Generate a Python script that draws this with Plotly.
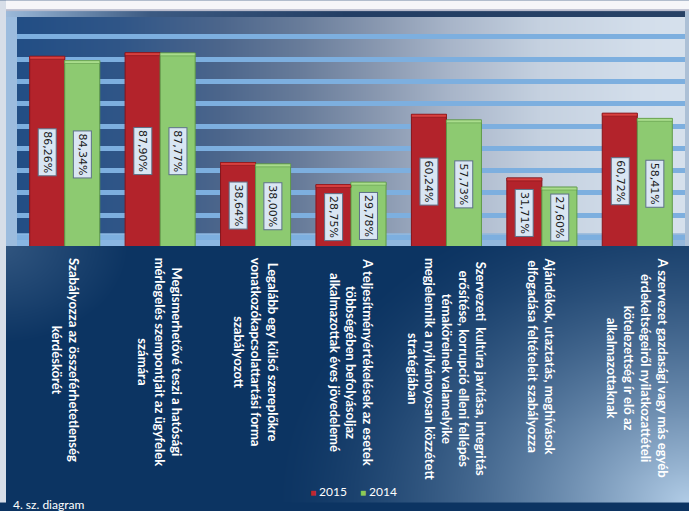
import base64
import struct
import zlib

import numpy as np
import plotly.graph_objects as go

# ---------------- data ----------------
categories = [
    "Szabályozza az összeférhetetlenség<br>kérdéskörét",
    "Megismerhetővé teszi a hatósági<br>mérlegelés szempontjait az ügyfelek<br>számára",
    "Legalább egy külső szereplőkre<br>vonatkozókapcsolattartási forma<br>szabályozott",
    "A teljesítményértékelések az esetek<br>többségében befolyásoljaz<br>alkalmazottak éves jövedelemé",
    "Szervezeti  kultúra javítása, integritás<br>erősítése, korrupció elleni fellépés<br>témaköreinek valamelyike<br>megjelennik a nyilvánoyosan közzétett<br>stratégiában",
    "Ajándékok, utaztatás, meghívások<br>elfogadása feltételeit szabályozza",
    "A szervezet gazdasági vagy más egyéb<br>érdekeltségeiről nyilatkozattételi<br>kötelezettség ír elő az<br>alkalmazottaknak",
]
series_names = ["2015", "2014"]
values_2015 = [86.26, 87.90, 38.64, 28.75, 60.24, 31.71, 60.72]
values_2014 = [84.34, 87.77, 38.00, 29.78, 57.73, 27.60, 58.41]
footer_text = "4. sz. diagram"

# ---------------- geometry / style ----------------
W, H = 689, 511
ML, MR, MT, MB = 17, 4, 17, 261
PW, PH = W - ML - MR, H - MT - MB
CAP = 1.3  # thickness (in axis units) of the lighter bevel on the bar tops

RED, RED_LINE, RED_CAP = "#b3232b", "#85141b", "#d8403f"
GREEN, GREEN_LINE, GREEN_CAP = "#8dca71", "#5f9a48", "#a9dc8c"
KEY_COLORS = ["#c0282e", "#8dca55"]


def fmt(v):
    return f"{v:.2f}".replace(".", ",") + "%"


# ---------------- background picture (gradients) ----------------
def make_background():
    xx, yy = np.meshgrid(np.arange(W) + 0.5, np.arange(H) + 0.5)
    img = np.zeros((H, W, 3), dtype=float)

    # area below the plot: navy, brightening towards the lower-right corner
    navy = np.array([12, 52, 98], float)
    light = np.array([178, 205, 231], float)
    d = np.sqrt(((xx - W) / 420.0) ** 2 + ((yy - H) / 330.0) ** 2)
    t = np.clip(1 - d, 0, 1) ** 1.5
    img[:] = navy * (1 - t[..., None]) + light * t[..., None]
    # slight haze in upper-left of the lower area
    d2 = np.sqrt(((xx - 0) / 130.0) ** 2 + ((yy - 250) / 100.0) ** 2)
    t2 = np.clip(1 - d2, 0, 1) * 0.35
    img = img * (1 - t2[..., None]) + np.array([120, 150, 185]) * t2[..., None]

    # plot area horizontal gradient
    xs = [17, 120, 220, 300, 380, 450, 540, 640, 685]
    cols = [(34, 78, 133), (48, 86, 136), (76, 102, 140), (104, 124, 154),
            (138, 153, 177), (168, 181, 201), (197, 209, 224), (211, 222, 235),
            (214, 225, 237)]
    cols = np.array(cols, float)
    pm = (xx >= ML) & (xx < W - MR) & (yy >= MT) & (yy < MT + PH)
    for c in range(3):
        ch = np.interp(xx, xs, cols[:, c])
        img[..., c] = np.where(pm, ch, img[..., c])

    # floor band at the bottom of the plot area
    fm = (xx >= ML) & (xx < W - MR) & (yy >= 237) & (yy < 250)
    fl = np.array([(136, 182, 228), (150, 184, 218)], float)
    for c in range(3):
        ch = np.interp(xx, [17, 685], fl[:, c])
        img[..., c] = np.where(fm, ch, img[..., c])

    # frame: left and top
    lm = (xx >= 6) & (xx < ML) & (yy >= 9) & (yy < 250)
    img[lm] = (156, 188, 222)
    tm = (xx >= 6) & (yy >= 9) & (yy < MT)
    top = np.zeros((H, W, 3))
    tcols = np.array([(160, 190, 222), (60, 90, 130), (35, 62, 100), (40, 66, 102)], float)
    for c in range(3):
        top[..., c] = np.interp(xx, [0, 150, 350, 689], tcols[:, c])
    img = np.where(tm[..., None], top, img)
    gm = (xx >= 6) & (yy >= 9) & (yy < 11)
    img[gm] = (185, 188, 205)
    rm = (xx >= W - MR) & (yy >= 11) & (yy < 250)
    img[rm] = (172, 192, 214)
    # white page margin
    img[(yy < 9)] = (246, 246, 249)
    img[(xx < 6)] = (215, 222, 232)

    arr = np.clip(img, 0, 255).astype(np.uint8)
    raw = b"".join(b"\x00" + arr[i].tobytes() for i in range(H))

    def chunk(tag, data):
        return (struct.pack(">I", len(data)) + tag + data +
                struct.pack(">I", zlib.crc32(tag + data) & 0xFFFFFFFF))

    png = (b"\x89PNG\r\n\x1a\n" +
           chunk(b"IHDR", struct.pack(">IIBBBBB", W, H, 8, 2, 0, 0, 0)) +
           chunk(b"IDAT", zlib.compress(raw, 9)) + chunk(b"IEND", b""))
    return "data:image/png;base64," + base64.b64encode(png).decode()


bg = make_background()

fig = go.Figure()
series = [
    (series_names[0], values_2015, RED, RED_LINE, RED_CAP, "a"),
    (series_names[1], values_2014, GREEN, GREEN_LINE, GREEN_CAP, "b"),
]
for nm, vals, col, lcol, ccol, grp in series:
    fig.add_trace(go.Bar(x=categories, y=vals, name=nm, offsetgroup=grp,
                         marker=dict(color=col, line=dict(color=lcol, width=1)),
                         showlegend=False, legendgroup=grp, hoverinfo="y"))
for nm, vals, col, lcol, ccol, grp in series:
    # lighter bevel on top of each bar
    fig.add_trace(go.Bar(x=categories, y=[CAP] * len(vals),
                         base=[v - CAP for v in vals], offsetgroup=grp,
                         marker=dict(color=ccol, line=dict(color=lcol, width=0.6)),
                         showlegend=False, legendgroup=grp, hoverinfo="skip"))

# legend entries: the small coloured square sits right before the label text
for i, (nm, grp, lg) in enumerate(zip(series_names, ["a", "b"], ["legend", "legend2"])):
    fig.add_trace(go.Scatter(
        x=[None], y=[None], mode="markers", legendgroup=grp, legend=lg,
        name=f'<span style="color:{KEY_COLORS[i]};font-size:10px">■</span> {nm}',
        hoverinfo="skip",
        marker=dict(symbol="square", size=1, color="rgba(0,0,0,0)")))

annotations = []
for cat, v15, v14 in zip(categories, values_2015, values_2014):
    for v, shift in ((v15, -17.5), (v14, 17.5)):
        annotations.append(dict(
            x=cat, y=v / 2, xref="x", yref="y", xshift=shift,
            text=fmt(v), textangle=90, showarrow=False,
            font=dict(family="DejaVu Sans", size=11, color="#1a1a1a"),
            bgcolor="#d9e6f3", bordercolor="#5d7188", borderwidth=1, borderpad=2,
            xanchor="center", yanchor="middle"))
    annotations.append(dict(
        x=cat, xref="x", y=-10 / PH, yref="paper",
        text=cat, textangle=90, showarrow=False, align="center",
        xanchor="center", yanchor="top",
        font=dict(family="Lato", size=13, color="white", weight="bold")))
annotations.append(dict(
    x=-6 / PW, y=-253 / PH, xref="paper", yref="paper", text=footer_text,
    showarrow=False, xanchor="left", yanchor="top",
    font=dict(family="Lato", size=12, color="white")))

legend_common = dict(orientation="h", yanchor="middle", y=-250 / PH,
                     xanchor="left", font=dict(family="Lato", size=12, color="white"),
                     bgcolor="rgba(0,0,0,0)", itemwidth=30, borderwidth=0)

fig.update_layout(
    width=W, height=H,
    margin=dict(l=ML, r=MR, t=MT, b=MB, pad=0),
    paper_bgcolor="#0c3462", plot_bgcolor="rgba(0,0,0,0)",
    barmode="group", bargap=0.266, bargroupgap=0,
    images=[dict(source=bg, xref="paper", yref="paper",
                 x=-ML / PW, y=1 + MT / PH, sizex=W / PW, sizey=H / PH,
                 xanchor="left", yanchor="top", sizing="stretch", layer="below")],
    xaxis=dict(showticklabels=False, showgrid=False, zeroline=False,
               showline=False, ticks=""),
    yaxis=dict(range=[1.2, 103.9], showticklabels=False, showgrid=True,
               gridcolor="#7dafdf", gridwidth=5, tick0=5, dtick=10,
               zeroline=False, showline=False, ticks=""),
    legend=dict(legend_common, x=(270 - ML) / PW),
    legend2=dict(legend_common, x=(320 - ML) / PW),
    annotations=annotations,
    showlegend=True,
)

fig.write_html("out.html")
